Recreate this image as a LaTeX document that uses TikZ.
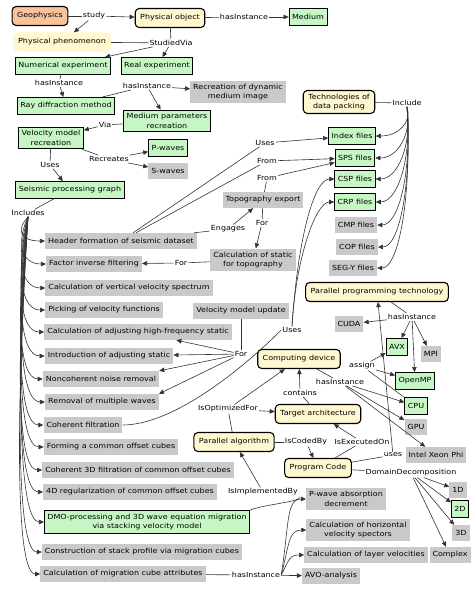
\documentclass[tikz,border=0pt]{standalone}
\usepackage{fontspec}
\setmainfont{DejaVu Sans}[FakeStretch=1.14]
\usetikzlibrary{arrows.meta}
\definecolor{cream}{HTML}{FFF7CF}
\definecolor{mint}{HTML}{C6F6C4}
\definecolor{lgray}{HTML}{C9C9C9}
\definecolor{peach}{HTML}{F8C29A}
\tikzset{%
  concept/.style={draw, line width=1.1pt, rounded corners=4pt, fill=cream,
                  inner xsep=5pt, minimum height=19pt, align=center},
  rootc/.style={concept, fill=peach},
  softc/.style={fill=cream, rounded corners=4pt, inner xsep=5pt, minimum height=19pt},
  mintbox/.style={draw, line width=0.9pt, fill=mint, inner xsep=3pt,
                  minimum height=17pt, align=center},
  greybox/.style={fill=lgray, inner xsep=3pt, minimum height=16pt, align=center},
  rel/.style={inner sep=1pt},
  ln/.style={draw=black!80, line width=0.6pt},
  arr/.style={ln, -{Triangle[length=5pt,width=4.5pt]}},
}

\begin{document}
\begin{tikzpicture}[x=1pt, y=-1pt, font=\fontsize{7}{9.5}\selectfont]
\useasboundingbox (0,0) rectangle (474,602);

% Top concepts
\node[rootc] (geo) at (40,16) {Geophysics};
\node[concept] (pob) at (170,18) {Physical object};
\node[mintbox] (med) at (308,17) {Medium};
\node[softc] (phen) at (62,42) {Physical phenomenon};
\node[mintbox] (nexp) at (63,66) {Numerical experiment};
\node[mintbox] (rexp) at (157,66) {Real experiment};
\node[mintbox] (ray) at (66,106) {Ray diffraction method};
\node[greybox] (rdm) at (238,92) {Recreation of dynamic\\medium image};
\node[mintbox] (mpr) at (167,121) {Medium parameters\\recreation};
\node[mintbox] (vmr) at (51,138) {Velocity model\\recreation};
\node[mintbox] (pw) at (168,148) {P-waves};
\node[greybox] (sw) at (168,171) {S-waves};
\node[mintbox] (spg) at (70,190) {Seismic processing graph};

% Data packing
\node[concept] (tdp) at (339,102) {Technologies of\\data packing};
\node[mintbox] (idx) at (352,136) {Index files};
\node[mintbox] (sps) at (355,158) {SPS files};
\node[mintbox] (csp) at (355,179) {CSP files};
\node[mintbox] (crp) at (355,202) {CRP files};
\node[greybox] (cmpf) at (356,225) {CMP files};
\node[greybox] (copf) at (357,247) {COP files};
\node[greybox] (segy) at (353,268) {SEG-Y files};

% Processing steps
\node[greybox] (hdr) at (121,241) {Header formation of seismic dataset};
\node[greybox] (fif) at (94,264) {Factor inverse filtering};
\node[greybox] (vvs) at (129,288) {Calculation of vertical velocity spectrum};
\node[greybox] (pvf) at (104,310) {Picking of velocity functions};
\node[greybox] (ahf) at (138,332) {Calculation of adjusting high-frequency static};
\node[greybox] (ias) at (109,356) {Introduction of adjusting static};
\node[greybox] (ncr) at (101,379) {Noncoherent noise removal};
\node[greybox] (rmw) at (102,402) {Removal of multiple waves};
\node[greybox] (cof) at (83,425) {Coherent filtration};
\node[greybox] (fcoc) at (111,447) {Forming a common offset cubes};
\node[greybox] (c3d) at (138,470) {Coherent 3D filtration of common offset cubes};
\node[greybox] (r4d) at (130,492) {4D regularization of common offset cubes};
\node[mintbox] (dmo) at (147,522) {DMO-processing and 3D wave equation migration\\via stacking velocity model};
\node[greybox] (cspv) at (142,552) {Construction of stack profile via migration cubes};
\node[greybox] (mca) at (123,574) {Calculation of migration cube attributes};

\node[greybox] (topo) at (263,200) {Topography export};
\node[greybox] (cst) at (253,260) {Calculation of static\\for topography};
\node[greybox] (vmu) at (241,311) {Velocity model update};

% Parallel computing
\node[concept] (ppt) at (377,292) {Parallel programming technology};
\node[greybox] (cuda) at (349,324) {CUDA};
\node[mintbox] (avx) at (397,347) {AVX};
\node[greybox] (mpi) at (431,354) {MPI};
\node[mintbox] (ompp) at (415,381) {OpenMP};
\node[mintbox] (cpu) at (416,406) {CPU};
\node[greybox] (gpu) at (416,427) {GPU};
\node[greybox] (xeon) at (436,455) {Intel Xeon Phi};
\node[concept] (cdev) at (299,359) {Computing device};
\node[concept] (tarch) at (318,414) {Target architecture};
\node[concept] (palg) at (234,442) {Parallel algorithm};
\node[concept] (pc) at (318,468) {Program Code};
\node[greybox] (d1) at (458,490) {1D};
\node[mintbox] (d2) at (460,509) {2D};
\node[greybox] (d3) at (461,533) {3D};
\node[greybox] (dcx) at (450,555) {Complex};

\node[greybox] (pwad) at (346,499) {P-wave absorption\\decrement};
\node[greybox] (chv) at (358,530) {Calculation of horizontal\\velocity spectors};
\node[greybox] (clv) at (366,555) {Calculation of layer velocities};
\node[greybox] (avo) at (331,576) {AVO-analysis};

% Link labels
\node[rel] (l-study) at (94,16) {study};
\node[rel] (l-hi1) at (244,17) {hasInstance};
\node[rel] (l-sv) at (171,43) {StudiedVia};
\node[rel] (l-hi2) at (59,83) {hasInstance};
\node[rel] (l-hi3) at (147,86) {hasInstance};
\node[rel] (l-via) at (105,125) {Via};
\node[rel] (l-rec) at (109,159) {Recreates};
\node[rel] (l-uses1) at (50,165) {Uses};
\node[rel] (l-incl) at (28,213) {Includes};
\node[rel] (l-inc2) at (407,103) {Include};
\node[rel] (l-uses2) at (265,143) {Uses};
\node[rel] (l-from1) at (267,161) {From};
\node[rel] (l-from2) at (267,178) {From};
\node[rel] (l-eng) at (228,229) {Engages};
\node[rel] (l-for1) at (262,223) {For};
\node[rel] (l-for2) at (181,263) {For};
\node[rel] (l-for3) at (241,354) {For};
\node[rel] (l-uses3) at (292,330) {Uses};
\node[rel] (l-hi4) at (412,317) {hasInstance};
\node[rel] (l-asg) at (362,366) {assign};
\node[rel] (l-hi5) at (340,382) {hasInstance};
\node[rel] (l-cont) at (300,393) {contains};
\node[rel] (l-iof) at (228,409) {IsOptimizedFor};
\node[rel] (l-icb) at (306,442) {IsCodedBy};
\node[rel] (l-ieo) at (362,442) {IsExecutedOn};
\node[rel] (l-uses4) at (393,455) {uses};
\node[rel] (l-dd) at (411,473) {DomainDecomposition};
\node[rel] (l-iib) at (263,492) {IsImplementedBy};
\node[rel] (l-hi6) at (256,575) {hasInstance};

% Connectors: upper part
\draw[ln] (geo) -- (l-study);
\draw[arr] (l-study) -- (pob);
\draw[arr] (l-study) -- (phen);
\draw[ln] (pob) -- (l-hi1);
\draw[arr] (l-hi1) -- (med);
\draw[ln] (pob) -- (l-sv);
\draw[ln] (phen) -- (l-sv);
\draw[arr] (l-sv) -- (nexp);
\draw[arr] (l-sv) -- (rexp);
\draw[ln] (nexp) -- (l-hi2);
\draw[arr] (l-hi2) -- (ray);
\draw[ln] (ray) -- (l-hi3);
\draw[arr] (l-hi3) -- (rdm);
\draw[arr] (l-hi3) -- (mpr);
\draw[ln] (mpr) -- (l-via);
\draw[arr] (l-via) -- (vmr);
\draw[ln] (vmr) -- (l-rec);
\draw[arr] (l-rec) -- (pw);
\draw[arr] (l-rec) -- (sw);
\draw[ln] (vmr) -- (l-uses1);
\draw[arr] (l-uses1) -- (spg);
\draw[ln] (spg) -- (l-incl);

% Includes bundle
\foreach \t/\d in {hdr/13, fif/26, vvs/39, pvf/52, ahf/64, ias/77, ncr/89, rmw/102,
                   cof/114, fcoc/128, c3d/140, r4d/152, dmo/168, cspv/184, mca/197}
  \draw[arr] (l-incl.south) .. controls +(-12,\d) and +(-25,0) .. (\t.west);

% Include bundle
\draw[ln] (tdp) -- (l-inc2);
\foreach \t/\d in {idx/16, sps/28, csp/39, crp/51, cmpf/64, copf/75, segy/87}
  \draw[arr] (l-inc2.south) .. controls +(5,\d) and +(22,0) .. (\t.east);

% Header formation and topography
\draw[ln] (hdr) -- (l-uses2);
\draw[arr] (l-uses2) -- (idx);
\draw[ln] (hdr) -- (l-from1);
\draw[arr] (l-from1) -- (sps);
\draw[ln] (topo) -- (l-from2);
\draw[arr] (l-from2) -- (sps);
\draw[ln] (hdr) -- (l-eng);
\draw[arr] (l-eng) -- (topo);
\draw[ln] (topo) -- (l-for1);
\draw[arr] (l-for1) -- (cst);
\draw[ln] (cst) -- (l-for2);
\draw[arr] (l-for2) -- (fif);

% Velocity model update
\draw[ln] (vmu) -- (l-for3);
\draw[arr] (l-for3) -- (ahf);
\draw[arr] (l-for3) -- (ias);
\draw[arr] (l-for3) -- (ncr.north east);
\draw[arr] (l-for3) -- (rmw.north east);

% Coherent filtration uses
\draw[ln] (cof.east) .. controls +(50,0) and +(-40,40) .. (l-uses3.west);
\draw[arr] (l-uses3.north) .. controls +(6,-90) and +(-20,0) .. (csp.west);
\draw[arr] (l-uses3.north) .. controls +(4,-70) and +(-18,0) .. (crp.west);

% Parallel computing
\draw[ln] (ppt) -- (l-hi4);
\draw[arr] (l-hi4) -- (cuda);
\draw[arr] (l-hi4) -- (avx);
\draw[arr] (l-hi4) -- (mpi);
\draw[arr] (l-hi4) -- (ompp);
\draw[ln] (cpu) -- (l-asg);
\draw[arr] (l-asg) -- (avx);
\draw[arr] (l-asg) -- (ompp);
\draw[ln] (cdev) -- (l-hi5);
\draw[arr] (l-hi5) -- (cpu);
\draw[arr] (l-hi5) -- (gpu);
\draw[arr] (l-hi5) -- (xeon);
\draw[ln] (tarch) -- (l-cont);
\draw[arr] (l-cont) -- (cdev);
\draw[ln] (palg) -- (l-iof);
\draw[arr] (l-iof) -- (tarch);
\draw[arr] (l-iof) -- (cdev);
\draw[ln] (palg) -- (l-icb);
\draw[arr] (l-icb) -- (pc);
\draw[ln] (pc) -- (l-ieo);
\draw[arr] (l-ieo) -- (tarch);
\draw[ln] (pc) -- (l-uses4);
\draw[arr] (l-uses4) -- (ppt);
\draw[ln] (pc) -- (l-dd);
\draw[arr] (l-dd) -- (d1);
\draw[arr] (l-dd) -- (d2);
\draw[arr] (l-dd) -- (d3);
\draw[arr] (l-dd) -- (dcx);
\draw[ln] (dmo.north east) .. controls +(15,-6) and +(5,5) .. (l-iib.south east);
\draw[arr] (l-iib) -- (palg);

% Migration cube attributes
\draw[ln] (mca) -- (l-hi6);
\draw[arr] (l-hi6) -- (avo);
\draw[arr] (l-hi6.east) .. controls +(8,-15) and +(-15,0) .. (clv.west);
\draw[arr] (l-hi6.east) .. controls +(8,-30) and +(-18,0) .. (chv.west);
\draw[arr] (l-hi6.east) .. controls +(8,-50) and +(-20,0) .. (pwad.west);

\end{tikzpicture}
\end{document}
